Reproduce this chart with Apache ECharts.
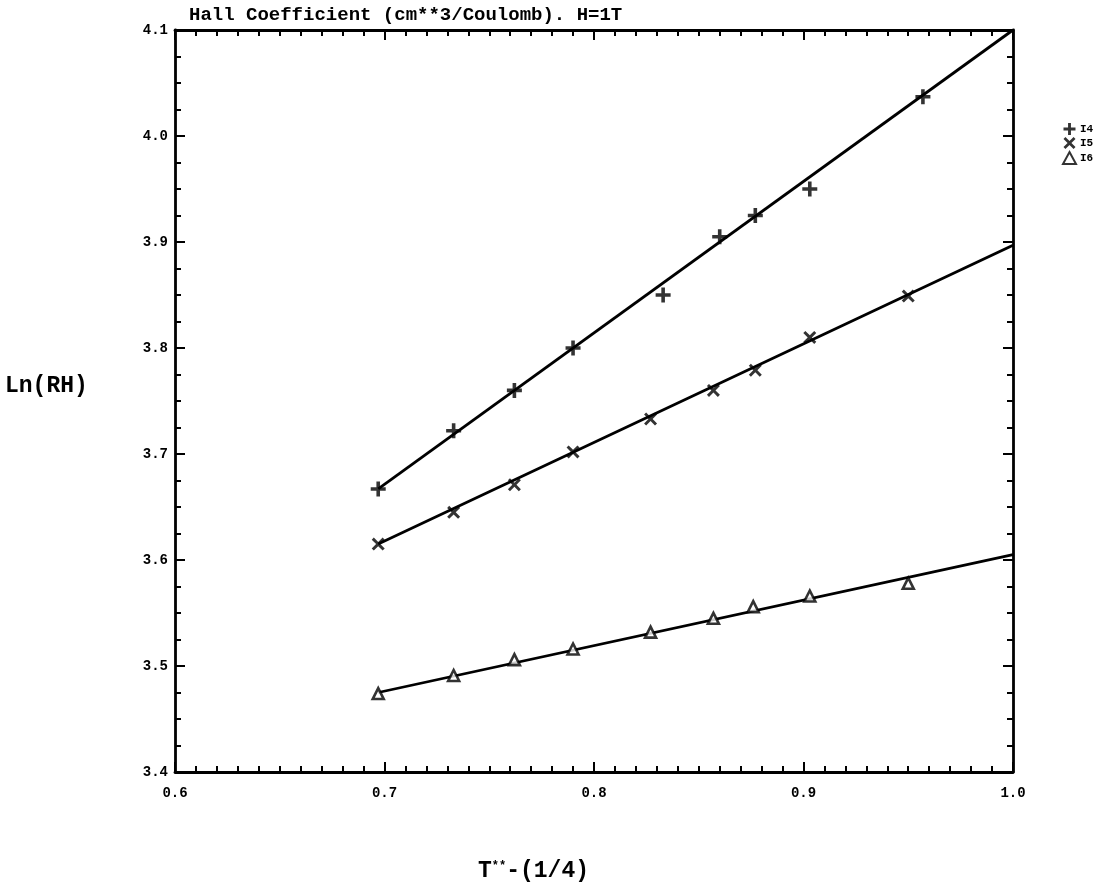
<!DOCTYPE html>
<html>
<head>
<meta charset="utf-8">
<script src="https://cdn.jsdelivr.net/npm/echarts@6/dist/echarts.min.js"></script>
<style>html,body{margin:0;padding:0;background:#fff;}#c{width:1109px;height:892px;}</style>
</head>
<body>
<div id="c"></div>
<script>
// ---- data ----
const seriesNames = ['I4', 'I5', 'I6'];
const xI4 = [0.697, 0.733, 0.762, 0.790, 0.833, 0.860, 0.877, 0.903, 0.957];
const yI4 = [3.667, 3.722, 3.760, 3.800, 3.850, 3.905, 3.925, 3.950, 4.037];
const xI5 = [0.697, 0.733, 0.762, 0.790, 0.827, 0.857, 0.877, 0.903, 0.950];
const yI5 = [3.615, 3.645, 3.671, 3.702, 3.733, 3.760, 3.779, 3.810, 3.849];
const xI6 = [0.697, 0.733, 0.762, 0.790, 0.827, 0.857, 0.876, 0.903, 0.950];
const yI6 = [3.474, 3.491, 3.506, 3.516, 3.532, 3.545, 3.556, 3.566, 3.578];
// fitted straight lines (end points)
const fitX = [0.697, 1.0];
const fitI4 = [3.667, 4.100];
const fitI5 = [3.615, 3.897];
const fitI6 = [3.475, 3.605];
const xTicks = ['0.6', '0.7', '0.8', '0.9', '1.0'];
const yTicks = ['3.4', '3.5', '3.6', '3.7', '3.8', '3.9', '4.0', '4.1'];

const FONT = '"Liberation Mono", "DejaVu Sans Mono", monospace';
const zip = (a, b) => a.map((v, i) => [v, b[i]]);

const plusPath = 'path://M3.8,0H6.2V3.8H10V6.2H6.2V10H3.8V6.2H0V3.8H3.8Z';
const crossPath = 'path://M0,1.6L1.6,0L5,3.4L8.4,0L10,1.6L6.6,5L10,8.4L8.4,10L5,6.6L1.6,10L0,8.4L3.4,5Z';

const scatterStyle = (name, data, symbol, size, hollow) => ({
  name: name, type: 'scatter', data: data, symbol: symbol, symbolSize: size,
  itemStyle: hollow ? { color: '#fff', borderColor: '#000', borderWidth: 2.6 } : { color: '#000' },
  z: 5, silent: true
});
const fitLine = (name, ys) => ({
  name: name, type: 'line', data: zip(fitX, ys), symbol: 'none',
  lineStyle: { color: '#000', width: 2.8 }, z: 3, silent: true
});

const axisCommon = {
  type: 'value',
  axisLine: { show: true, lineStyle: { color: '#000', width: 2.8 } },
  axisTick: { show: true, inside: true, length: 10, lineStyle: { color: '#000', width: 2 } },
  splitLine: { show: false },
  minorSplitLine: { show: false }
};

const chart = echarts.init(document.getElementById('c'), null, { renderer: 'canvas' });
chart.setOption({
  backgroundColor: '#fff',
  animation: false,
  title: {
    text: 'Hall Coefficient (cm**3/Coulomb). H=1T',
    left: 184, top: 1,
    textStyle: { fontFamily: FONT, fontWeight: 'bold', fontSize: 19, color: '#000' }
  },
  graphic: [
    { type: 'text', left: 5, top: 375,
      style: { text: 'Ln(RH)', font: 'bold 23px ' + FONT, fill: '#000' } },
    { type: 'text', left: 478, top: 860,
      style: {
        text: 'T{s|**}-(1/4)', font: 'bold 23px ' + FONT, fill: '#000',
        rich: { s: { fontFamily: FONT, fontWeight: 'bold', fontSize: 12, verticalAlign: 'top', padding: [0, 0, 10, 0] } }
      } }
  ],
  legend: {
    data: seriesNames,
    orient: 'vertical',
    left: 1057, top: 118,
    itemGap: 2, itemWidth: 13, itemHeight: 12,
    textStyle: { fontFamily: FONT, fontWeight: 'bold', fontSize: 11, color: '#000', padding: [0, 0, 0, -1] },
    selectedMode: false
  },
  grid: { left: 175, right: 96, top: 30, bottom: 120 },
  xAxis: [
    Object.assign({}, axisCommon, {
      min: 0.6, max: 1.0, interval: 0.1,
      minorTick: { show: true, splitNumber: 10, length: 6, lineStyle: { color: '#000', width: 2 } },
      axisLabel: {
        margin: 14, color: '#000', fontFamily: FONT, fontWeight: 'bold', fontSize: 14,
        formatter: (v) => xTicks[Math.round((v - 0.6) / 0.1)]
      }
    }),
    Object.assign({}, axisCommon, {
      position: 'top', min: 0.6, max: 1.0, interval: 0.1,
      minorTick: { show: true, splitNumber: 10, length: 6, lineStyle: { color: '#000', width: 2 } },
      axisLabel: { show: false }
    })
  ],
  yAxis: [
    Object.assign({}, axisCommon, {
      min: 3.4, max: 4.1, interval: 0.1,
      minorTick: { show: true, splitNumber: 4, length: 6, lineStyle: { color: '#000', width: 2 } },
      axisLabel: {
        margin: 7, color: '#000', fontFamily: FONT, fontWeight: 'bold', fontSize: 14,
        formatter: (v) => yTicks[Math.round((v - 3.4) / 0.1)]
      }
    }),
    Object.assign({}, axisCommon, {
      position: 'right', min: 3.4, max: 4.1, interval: 0.1,
      minorTick: { show: true, splitNumber: 4, length: 6, lineStyle: { color: '#000', width: 2 } },
      axisLabel: { show: false }
    })
  ],
  series: [
    fitLine('I4 fit', fitI4),
    fitLine('I5 fit', fitI5),
    fitLine('I6 fit', fitI6),
    scatterStyle('I4', zip(xI4, yI4), plusPath, 15, false),
    scatterStyle('I5', zip(xI5, yI5), crossPath, 13, false),
    scatterStyle('I6', zip(xI6, yI6), 'triangle', 11, true)
  ]
});
</script>
</body>
</html>
